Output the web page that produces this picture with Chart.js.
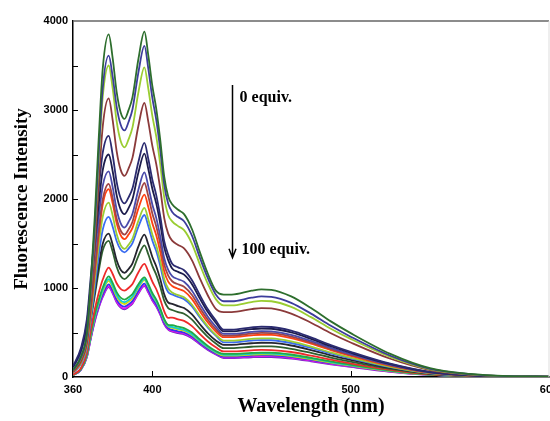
<!DOCTYPE html>
<html>
<head>
<meta charset="utf-8">
<script src="https://cdn.jsdelivr.net/npm/chart.js@4.4.0/dist/chart.umd.min.js"></script>
<style>
  html, body { margin: 0; padding: 0; background: #fff; }
  #wrap { width: 550px; height: 421px; position: relative; }
</style>
</head>
<body>
<div id="wrap"><canvas id="myChart"></canvas></div>
<script>
// wavelength axis (nm)
const wavelengths = [360, 364, 367, 369, 371, 373, 375, 378, 380, 382, 384, 386, 388, 390, 393, 396, 398, 400, 402, 404, 406, 408,
                     410, 413, 416, 420, 424, 428, 432, 436, 440, 450, 455, 460, 470, 480, 490, 500, 520, 540, 560, 580, 600];

// spectra, 0 equiv. (top) -> 100 equiv. (bottom)
const s01 = [77, 231, 500, 1078, 1810, 2695, 3465, 3850, 3584, 3204, 2976, 2900, 2998, 3145, 3576, 3880, 3608, 3271, 3011, 2662, 2250, 2029, 1940, 1879, 1830, 1660, 1400, 1160, 970, 926, 926, 970, 985, 980, 906, 775, 625, 493, 260, 99, 34, 10, 5];
const s02 = [72, 217, 469, 1011, 1697, 2527, 3249, 3610, 3375, 3039, 2837, 2770, 2865, 3008, 3426, 3720, 3460, 3136, 2887, 2552, 2158, 1946, 1855, 1797, 1750, 1587, 1339, 1110, 928, 851, 851, 891, 905, 900, 833, 712, 575, 453, 239, 91, 32, 9, 5];
const s03 = [70, 210, 455, 980, 1645, 2450, 3150, 3500, 3242, 2874, 2654, 2580, 2670, 2805, 3201, 3480, 3236, 2934, 2700, 2387, 2018, 1820, 1749, 1695, 1650, 1497, 1262, 1046, 875, 804, 804, 842, 855, 851, 787, 673, 543, 428, 226, 86, 30, 9, 4];
const s04 = [63, 188, 407, 876, 1471, 2191, 2817, 3130, 2886, 2538, 2330, 2260, 2342, 2465, 2826, 3080, 2864, 2596, 2390, 2113, 1786, 1611, 1532, 1484, 1445, 1311, 1105, 916, 766, 729, 729, 763, 775, 771, 713, 610, 492, 388, 205, 78, 27, 8, 4];
const s05 = [122, 325, 650, 1138, 1626, 2114, 2520, 2710, 2497, 2193, 2011, 1950, 2018, 2120, 2419, 2630, 2446, 2217, 2041, 1804, 1525, 1375, 1272, 1232, 1200, 1088, 918, 761, 636, 531, 531, 557, 565, 562, 520, 445, 359, 283, 149, 57, 20, 6, 3];
const s06 = [113, 300, 600, 1050, 1500, 1950, 2325, 2500, 2312, 2044, 1884, 1830, 1898, 2000, 2299, 2510, 2334, 2116, 1948, 1722, 1456, 1313, 1219, 1181, 1150, 1043, 880, 729, 610, 512, 512, 537, 545, 542, 501, 429, 346, 273, 144, 55, 19, 5, 3];
const s07 = [104, 277, 554, 970, 1386, 1802, 2148, 2310, 2134, 1882, 1730, 1680, 1742, 1835, 2108, 2300, 2139, 1939, 1785, 1578, 1334, 1203, 1134, 1099, 1070, 970, 819, 678, 567, 484, 484, 507, 515, 512, 474, 405, 327, 258, 136, 52, 18, 5, 3];
const s08 = [54, 174, 391, 781, 1215, 1649, 1996, 2170, 2010, 1782, 1646, 1600, 1658, 1745, 2000, 2180, 2027, 1838, 1692, 1495, 1264, 1140, 1076, 1042, 1015, 921, 776, 644, 538, 465, 465, 488, 495, 493, 455, 390, 314, 248, 131, 50, 17, 5, 2];
const s09 = [53, 169, 380, 760, 1182, 1604, 1941, 2110, 1953, 1729, 1595, 1550, 1600, 1675, 1895, 2050, 1907, 1728, 1591, 1406, 1189, 1072, 1023, 991, 965, 875, 738, 612, 511, 447, 447, 468, 475, 473, 437, 374, 302, 238, 125, 48, 17, 5, 2];
const s10 = [49, 157, 353, 706, 1098, 1490, 1803, 1960, 1814, 1606, 1482, 1440, 1486, 1555, 1757, 1900, 1767, 1602, 1474, 1303, 1102, 994, 949, 919, 895, 812, 685, 567, 474, 409, 409, 428, 435, 433, 400, 342, 276, 218, 115, 44, 15, 4, 2];
const s11 = [45, 144, 324, 648, 1008, 1368, 1656, 1800, 1688, 1528, 1432, 1400, 1442, 1505, 1690, 1820, 1693, 1534, 1412, 1249, 1056, 952, 928, 899, 875, 794, 669, 555, 464, 390, 390, 409, 415, 413, 382, 327, 264, 208, 110, 42, 15, 4, 2];
const s12 = [72, 193, 386, 676, 966, 1256, 1497, 1610, 1487, 1311, 1205, 1170, 1213, 1278, 1467, 1600, 1488, 1349, 1242, 1098, 928, 837, 822, 796, 775, 703, 593, 491, 411, 362, 362, 379, 385, 383, 354, 303, 244, 193, 102, 39, 13, 4, 2];
const s13 = [69, 184, 367, 643, 918, 1193, 1423, 1530, 1410, 1238, 1134, 1100, 1138, 1195, 1362, 1480, 1376, 1248, 1148, 1015, 858, 774, 753, 729, 710, 644, 543, 450, 376, 324, 324, 340, 345, 343, 317, 272, 219, 173, 91, 35, 12, 3, 2];
const s14 = [25, 98, 271, 529, 763, 947, 1095, 1230, 1157, 1053, 991, 970, 1000, 1045, 1177, 1270, 1181, 1071, 986, 871, 737, 664, 668, 647, 630, 571, 482, 399, 334, 287, 287, 300, 305, 303, 281, 240, 194, 153, 81, 31, 11, 3, 2];
const s15 = [23, 90, 249, 486, 701, 870, 1006, 1130, 1057, 953, 891, 870, 895, 933, 1043, 1120, 1042, 944, 869, 768, 650, 586, 583, 565, 550, 499, 421, 349, 292, 259, 259, 271, 275, 274, 253, 216, 175, 138, 73, 28, 10, 3, 1];
const s16 = [22, 88, 242, 473, 682, 847, 979, 1100, 1027, 923, 861, 840, 866, 905, 1019, 1100, 1023, 927, 854, 755, 638, 575, 562, 544, 530, 481, 405, 336, 281, 249, 249, 261, 265, 264, 244, 209, 168, 133, 70, 27, 9, 3, 1];
const s17 = [22, 86, 238, 464, 670, 832, 961, 1080, 1007, 903, 841, 820, 847, 888, 1006, 1090, 1014, 919, 846, 748, 632, 570, 551, 534, 520, 472, 398, 330, 276, 240, 240, 251, 255, 254, 235, 201, 162, 128, 67, 26, 9, 3, 1];
const s18 = [21, 83, 229, 447, 645, 801, 926, 1040, 970, 870, 810, 790, 816, 855, 969, 1050, 977, 885, 815, 720, 609, 549, 530, 514, 500, 454, 383, 317, 265, 230, 230, 241, 245, 244, 225, 193, 156, 123, 65, 25, 9, 2, 1];
const s19 = [20, 82, 224, 439, 632, 785, 908, 1020, 950, 850, 790, 770, 796, 835, 949, 1030, 958, 868, 799, 707, 597, 539, 519, 503, 490, 444, 375, 311, 260, 221, 221, 231, 235, 234, 216, 185, 149, 118, 62, 24, 8, 2, 1];
const s20 = [20, 81, 222, 434, 626, 778, 899, 1010, 940, 840, 780, 760, 786, 825, 939, 1020, 949, 860, 792, 700, 592, 533, 509, 493, 480, 435, 367, 304, 254, 212, 212, 222, 225, 224, 207, 177, 143, 113, 59, 23, 8, 2, 1];

const series = [s01, s02, s03, s04, s05, s06, s07, s08, s09, s10, s11, s12, s13, s14, s15, s16, s17, s18, s19, s20];
const colors = ['#2d6e2d', '#3c3c9c', '#9acd32', '#8b3a3a', '#2b2b70', '#1c1c4c', '#4a4aaa', '#a04545', '#ff4010', '#9acd32',
                '#3a6cf0', '#252530', '#2f5f2f', '#ee2a2a', '#22aa44', '#10d0d0', '#d8d800', '#3535ee', '#ee10ee', '#7030c0'];

const xTicks = [360, 400, 500, 600];

// inward tick marks, frame and the arrow annotation
const decor = {
  id: 'decor',
  afterDatasetsDraw(chart) {
    const { ctx, chartArea: a, scales: { x, y } } = chart;
    ctx.save();
    // top / right frame
    ctx.strokeStyle = '#666';
    ctx.lineWidth = 1.5;
    ctx.beginPath();
    ctx.moveTo(a.left, a.top); ctx.lineTo(a.right, a.top);
    ctx.stroke();
    ctx.strokeStyle = '#ddd';
    ctx.lineWidth = 1;
    ctx.beginPath();
    ctx.moveTo(a.right, a.top); ctx.lineTo(a.right, a.bottom);
    ctx.stroke();
    // inward ticks
    ctx.strokeStyle = '#000';
    ctx.lineWidth = 1;
    ctx.beginPath();
    for (let v = 500; v < 4000; v += 500) {
      const py = Math.round(y.getPixelForValue(v)) + 0.5;
      ctx.moveTo(a.left, py); ctx.lineTo(a.left + 5, py);
    }
    [400, 500].forEach(v => {
      const px = Math.round(x.getPixelForValue(v)) + 0.5;
      ctx.moveTo(px, a.bottom); ctx.lineTo(px, a.bottom - 6);
    });
    ctx.stroke();
    // arrow
    const ax = Math.round(x.getPixelForValue(440)) + 0.5;
    const y0 = y.getPixelForValue(3280);
    const y1 = y.getPixelForValue(1340);
    ctx.lineWidth = 1.5;
    ctx.beginPath();
    ctx.moveTo(ax, y0); ctx.lineTo(ax, y1);
    ctx.moveTo(ax - 3.5, y1 - 9); ctx.lineTo(ax, y1); ctx.lineTo(ax + 3.5, y1 - 9);
    ctx.stroke();
    ctx.fillStyle = '#000';
    ctx.font = 'bold 16px "Liberation Serif", "Times New Roman", serif';
    ctx.textBaseline = 'middle';
    ctx.textAlign = 'left';
    ctx.fillText('0 equiv.', x.getPixelForValue(444), y.getPixelForValue(3135));
    ctx.fillText('100 equiv.', x.getPixelForValue(445), y.getPixelForValue(1430));
    ctx.restore();
  }
};

const canvas = document.getElementById('myChart');
const chart = new Chart(canvas, {
  type: 'line',
  data: {
    datasets: series.map((s, i) => ({
      label: (i * 5) + ' equiv.',
      data: s.map((v, j) => ({ x: wavelengths[j], y: v })),
      borderColor: colors[i],
      borderWidth: 1.8,
      pointRadius: 0,
      fill: false,
      cubicInterpolationMode: 'monotone'
    }))
  },
  options: {
    responsive: true,
    maintainAspectRatio: false,
    animation: false,
    layout: { padding: { left: 0, right: 1, top: 21, bottom: 0 } },
    plugins: { legend: { display: false }, tooltip: { enabled: false } },
    scales: {
      x: {
        type: 'linear',
        min: 360,
        max: 600,
        afterBuildTicks: s => { s.ticks = xTicks.map(v => ({ value: v })); },
        afterFit: s => { s.height = 44; s.paddingLeft = 0; s.paddingRight = 0; },
        grid: { display: false, drawTicks: false },
        border: { display: true, color: '#000', width: 1.5 },
        ticks: {
          color: '#000',
          padding: 6,
          maxRotation: 0,
          autoSkip: false,
          callback: v => String(v),
          font: { family: '"Liberation Sans", Arial, sans-serif', size: 11, weight: 'bold' }
        },
        title: {
          display: true,
          text: 'Wavelength (nm)',
          color: '#000',
          padding: { top: 0, bottom: 2 },
          font: { family: '"Liberation Serif", "Times New Roman", serif', size: 20, weight: 'bold' }
        }
      },
      y: {
        min: 0,
        max: 4000,
        afterFit: s => { s.width = 73; },
        grid: { display: false, drawTicks: false },
        border: { display: true, color: '#000', width: 1.5 },
        ticks: {
          stepSize: 1000,
          color: '#000',
          padding: 5,
          callback: v => String(v),
          font: { family: '"Liberation Sans", Arial, sans-serif', size: 11, weight: 'bold' }
        },
        title: {
          display: true,
          text: 'Fluorescence Intensity',
          color: '#000',
          padding: { top: 11, bottom: 0 },
          font: { family: '"Liberation Serif", "Times New Roman", serif', size: 19, weight: 'bold' }
        }
      }
    }
  },
  plugins: [decor]
});
</script>
</body>
</html>
